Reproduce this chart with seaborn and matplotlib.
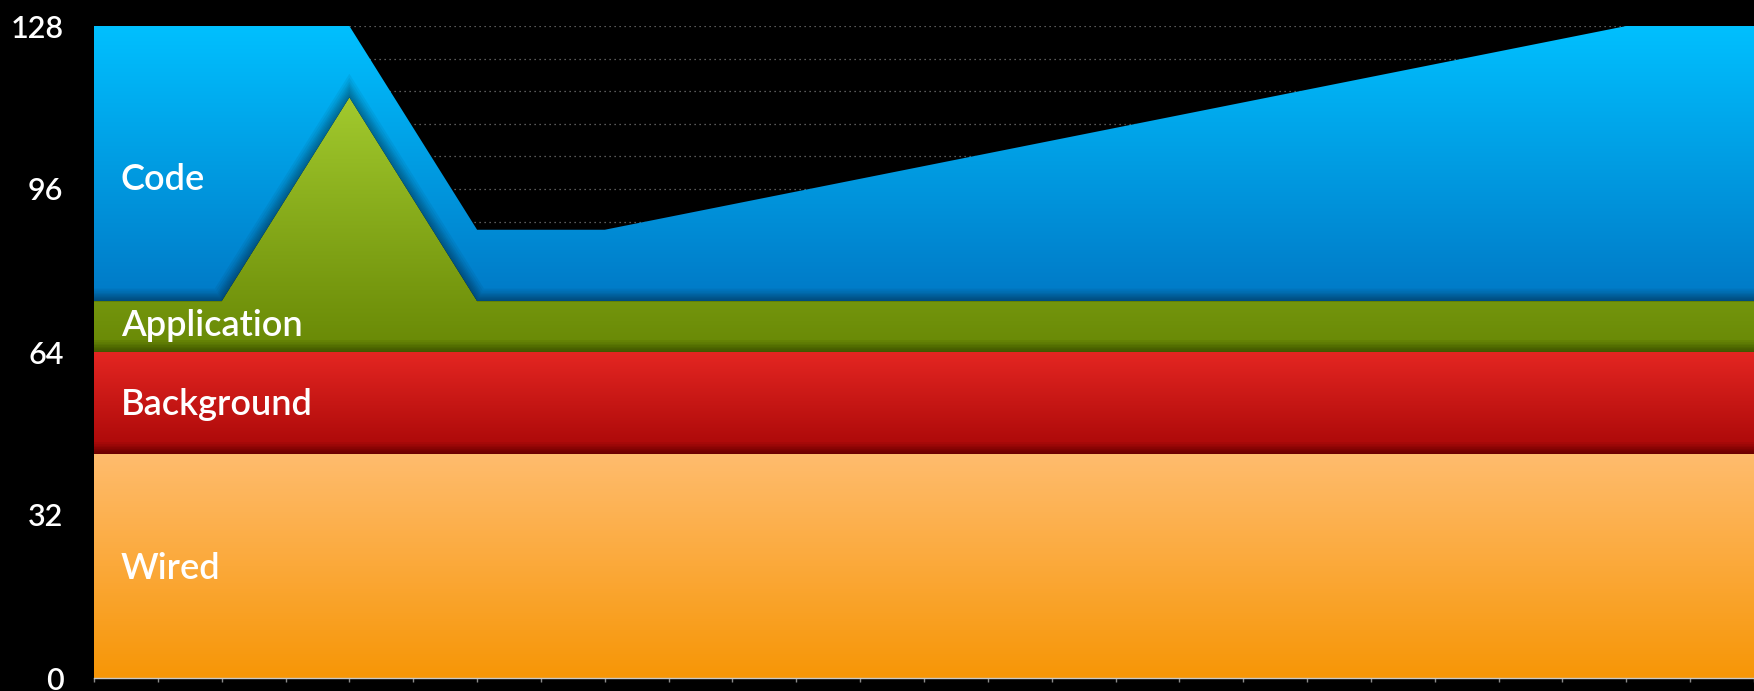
import numpy as np
import pandas as pd
import matplotlib
matplotlib.use("Agg")
import matplotlib.pyplot as plt
import seaborn as sns
from matplotlib.ticker import MultipleLocator
from matplotlib.colors import to_rgb

# time steps (x axis has a tick at every unit, no labels)
time = [0, 2, 4, 6, 8, 10, 12, 14, 16, 18, 20, 22, 24, 26]

# layer thicknesses, stacked bottom to top
wired = [44, 44, 44, 44, 44, 44, 44, 44, 44, 44, 44, 44, 44, 44]
background = [20, 20, 20, 20, 20, 20, 20, 20, 20, 20, 20, 20, 20, 20]
application = [10, 10, 50, 10, 10, 10, 10, 10, 10, 10, 10, 10, 10, 10]
code = [54, 54, 14, 14, 14, 19, 24, 29, 34, 39, 44, 49, 54, 54]

layer_names = ["Wired", "Background", "Application", "Code"]
y_ticks = [0, 32, 64, 96, 128]

# gradient colours (bottom, top) and label positions
gradients = {
    "Wired": ("#f79606", "#ffbc6e"),
    "Background": ("#a80707", "#e42622"),
    "Application": ("#688805", "#a2ca2e"),
    "Code": ("#0079c6", "#00c0ff"),
}
label_pos = {
    "Wired": (0.42, 21.5),
    "Background": (0.42, 53.7),
    "Application": (0.42, 69.3),
    "Code": (0.42, 97.8),
}

sns.set_theme(style="dark", rc={
    "figure.facecolor": "black",
    "axes.facecolor": "black",
    "savefig.facecolor": "black",
})
plt.rcParams["font.family"] = ["Lato", "DejaVu Sans"]

fig = plt.figure(figsize=(17.54, 6.91), dpi=100)
ax = fig.add_axes([94 / 1754, 13 / 691, 1 - 94 / 1754, (678 - 26) / 691])

polys = ax.stackplot(time, wired, background, application, code, zorder=2)

df = pd.DataFrame({"time": time, "Wired": wired, "Background": background,
                   "Application": application, "Code": code})
tops = df[layer_names].cumsum(axis=1)

# gradient fill clipped to each stacked band
for i, (poly, name) in enumerate(zip(polys, layer_names)):
    poly.set_facecolor("none")
    poly.set_edgecolor("none")
    lo = tops[layer_names[i - 1]].min() if i > 0 else 0
    hi = tops[name].max()
    c0 = np.array(to_rgb(gradients[name][0]))
    c1 = np.array(to_rgb(gradients[name][1]))
    t = np.linspace(0, 1, 256)[:, None, None]
    img = c0 + (c1 - c0) * t
    im = ax.imshow(img, extent=[min(time), max(time), lo, hi], origin="lower",
                   aspect="auto", zorder=2, interpolation="bilinear")
    im.set_clip_path(poly.get_paths()[0], poly.get_transform())

# soft shadow where each band sits on the one below
for i in range(1, len(layer_names)):
    below = layer_names[i - 1]
    edge = pd.DataFrame({"time": time, "top": tops[below]})
    for lw in [18, 15, 12, 10, 8, 6, 4, 2]:
        sns.lineplot(data=edge, x="time", y="top", ax=ax, color="black",
                     linewidth=lw, alpha=0.05, zorder=3)
        line = ax.lines[-1]
        line.set_clip_path(polys[i].get_paths()[0], polys[i].get_transform())
        line.set_solid_joinstyle("miter")

for name in layer_names:
    x, y = label_pos[name]
    ax.text(x, y, name, color="white", fontsize=26, fontweight="semibold",
            va="center", ha="left", zorder=5)

ax.set_xlim(0, 26)
ax.set_ylim(0, 128)
ax.set_xlabel("")
ax.set_ylabel("")

ax.xaxis.set_major_locator(MultipleLocator(1))
ax.set_xticklabels([])
ax.set_yticks(y_ticks)
ax.set_yticklabels([str(v) for v in y_ticks], fontweight="semibold")
ax.yaxis.set_minor_locator(MultipleLocator(6.4))

ax.tick_params(axis="y", which="both", length=0, pad=22, labelsize=22,
               labelcolor="white")
ax.tick_params(axis="x", which="major", bottom=True, length=3, width=1,
               color="#8a8a8a", direction="out")

ax.set_axisbelow(True)
ax.grid(False)
ax.grid(which="both", axis="y", color="#777777", linestyle=(0, (1, 3)),
        linewidth=0.9)
ax.grid(which="both", axis="x", visible=False)

for side in ["left", "right", "top"]:
    ax.spines[side].set_visible(False)
ax.spines["bottom"].set_color("#c8c8c8")
ax.spines["bottom"].set_linewidth(1)
ax.spines["bottom"].set_zorder(4)

fig.savefig("out.png", dpi=100, facecolor="black")
